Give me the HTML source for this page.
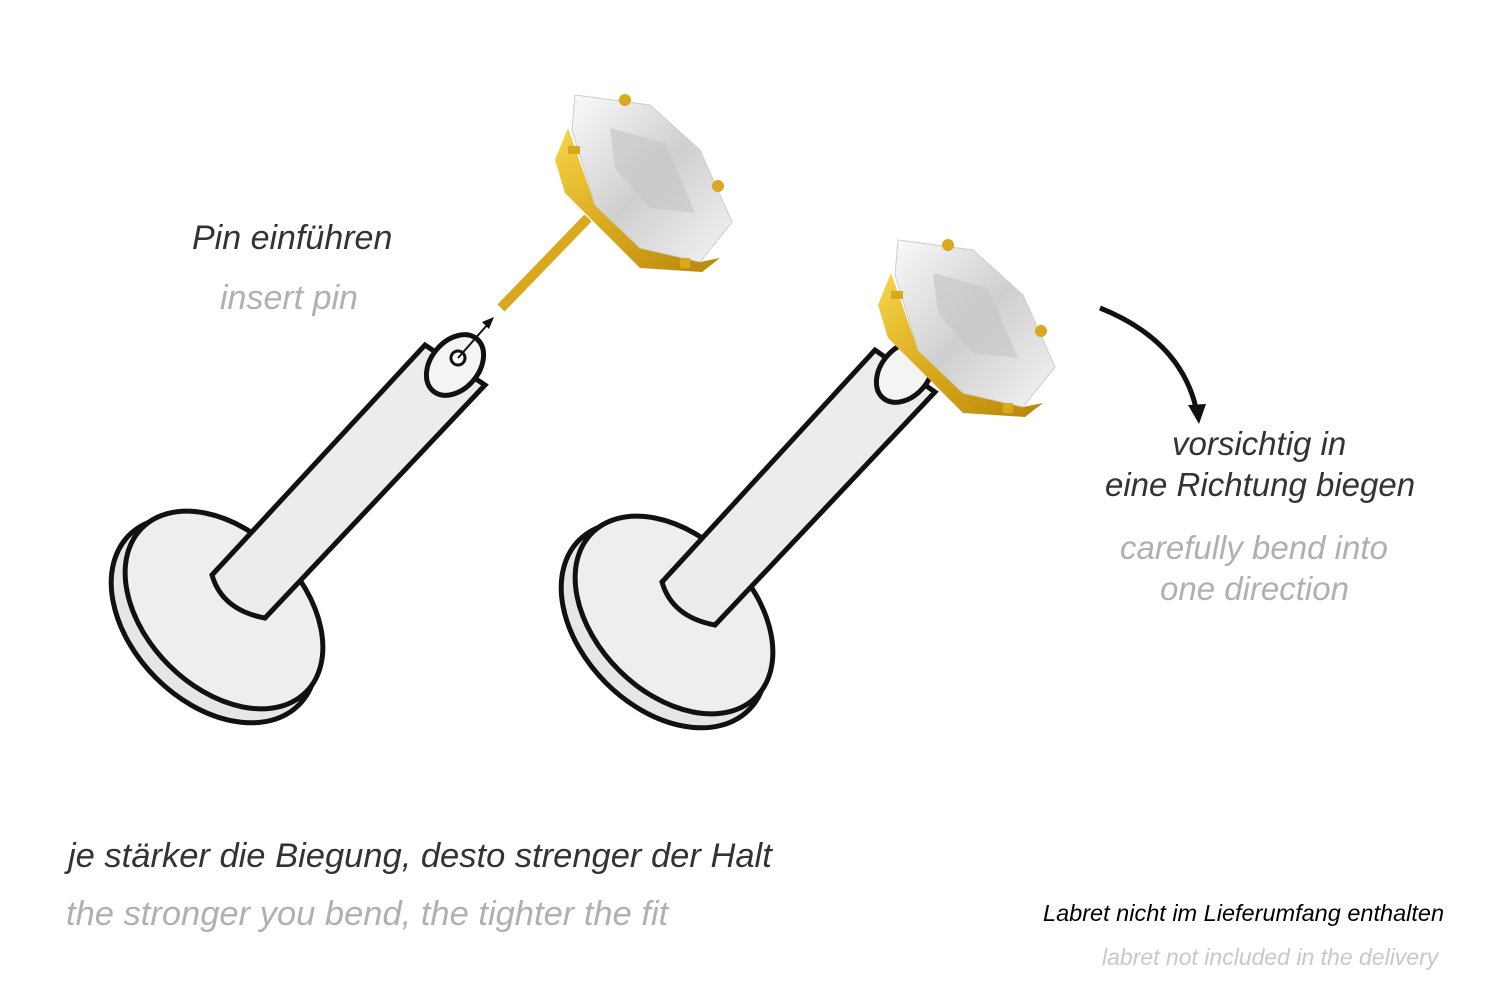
<!DOCTYPE html>
<html><head><meta charset="utf-8"><style>
body{margin:0;background:#fff;width:1500px;height:1001px;overflow:hidden;position:relative;font-family:"Liberation Sans",sans-serif;font-style:italic}
.t{position:absolute;white-space:nowrap}
.d{color:#333}.g{color:#b0b0b0}
</style></head><body>
<svg width="1500" height="1001" style="position:absolute;left:0;top:0">
<defs>
<linearGradient id="gold" x1="0" y1="0" x2="1" y2="1"><stop offset="0" stop-color="#f7d64a"/><stop offset="0.5" stop-color="#d9a81c"/><stop offset="1" stop-color="#b8860b"/></linearGradient>
<linearGradient id="gem" x1="0" y1="0" x2="1" y2="1"><stop offset="0" stop-color="#fafafa"/><stop offset="0.5" stop-color="#cfcfcf"/><stop offset="1" stop-color="#f4f4f4"/></linearGradient>
<g id="gemg">
<polygon points="-15,62 -2,30 25,107 70,150 130,164 150,160 132,174 70,170 -5,95" fill="url(#gold)"/>
<polygon points="5,-3 80,7 130,52 162,124 130,164 70,150 25,107 2,32" fill="url(#gem)" stroke="#ccc" stroke-width="1"/>
<polygon points="40,30 95,45 125,115 80,110 45,70" fill="#c8c8c8" opacity="0.7"/>
<circle cx="55" cy="2" r="6" fill="#d9a81c"/><circle cx="148" cy="88" r="6" fill="#d9a81c"/>
<rect x="-2" y="48" width="12" height="8" fill="#d9a81c"/><rect x="110" y="160" width="10" height="10" fill="#d9a81c"/>
</g>
</defs>
<g stroke="#111" stroke-width="5" fill="#fff">
<ellipse cx="214" cy="620" rx="120" ry="82" transform="rotate(45 214 620)" fill="#e6e6e6"/>
<ellipse cx="224" cy="610" rx="116" ry="78" transform="rotate(45 224 610)" fill="#eeeeee"/>
<path d="M212 575 L425 345 L485 385 L265 618 Q222 610 212 575 Z" fill="#ececec"/>
<ellipse cx="455" cy="365" rx="34" ry="24" transform="rotate(-50 455 365)" fill="#f4f4f4"/>
<circle cx="458" cy="358" r="7" fill="#fff" stroke-width="3"/>
</g>
<line x1="458" y1="358" x2="488" y2="324" stroke="#111" stroke-width="2"/>
<polygon points="494,317 482,322 489,329" fill="#111"/>
<line x1="501" y1="308" x2="588" y2="218" stroke="#d9a81c" stroke-width="10"/>
<use href="#gemg" transform="translate(570,98)"/>
<g stroke="#111" stroke-width="5" fill="#fff">
<ellipse cx="664" cy="625" rx="120" ry="82" transform="rotate(45 664 625)" fill="#e6e6e6"/>
<ellipse cx="674" cy="615" rx="116" ry="78" transform="rotate(45 674 615)" fill="#eeeeee"/>
<path d="M662 582 L875 350 L935 392 L715 625 Q672 617 662 582 Z" fill="#ececec"/>
<ellipse cx="905" cy="372" rx="34" ry="24" transform="rotate(-50 905 372)" fill="#f4f4f4"/>
</g>
<use href="#gemg" transform="translate(893,243)"/>
<path d="M1100 308 Q1180 340 1196 408" stroke="#111" stroke-width="5" fill="none"/>
<polygon points="1188,405 1206,404 1199,424" fill="#111"/>
</svg>
<div class="t d" style="left:192px;top:219px;font-size:34px">Pin einführen</div>
<div class="t g" style="left:220px;top:279px;font-size:34px">insert pin</div>
<div class="t d" style="left:1172px;top:425px;font-size:33px">vorsichtig in</div>
<div class="t d" style="left:1105px;top:466px;font-size:33px">eine Richtung biegen</div>
<div class="t g" style="left:1120px;top:529px;font-size:33px">carefully bend into</div>
<div class="t g" style="left:1160px;top:570px;font-size:33px">one direction</div>
<div class="t d" style="left:68px;top:837px;font-size:34.5px">je stärker die Biegung, desto strenger der Halt</div>
<div class="t g" style="left:66px;top:895px;font-size:34.5px">the stronger you bend, the tighter the fit</div>
<div class="t" style="left:1043px;top:900px;font-size:23.5px;color:#000">Labret nicht im Lieferumfang enthalten</div>
<div class="t g" style="left:1102px;top:944px;font-size:23px;color:#c8c8c8">labret not included in the delivery</div>
</body></html>
